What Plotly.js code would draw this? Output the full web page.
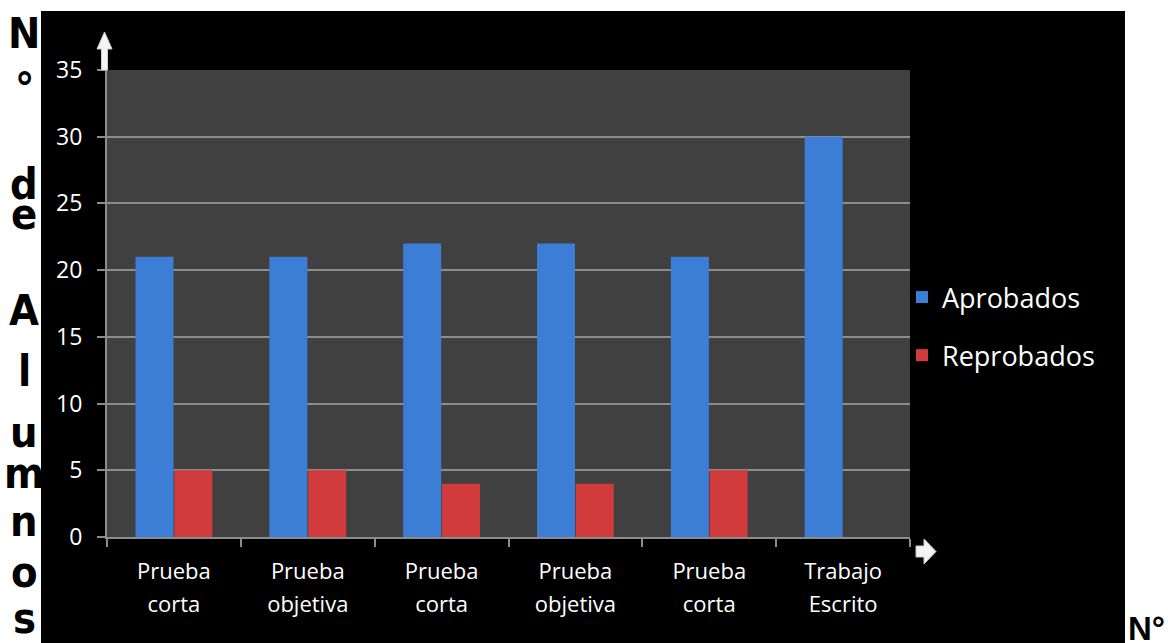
<!DOCTYPE html>
<html>
<head>
<meta charset="utf-8">
<script src="https://cdn.plot.ly/plotly-3.0.1.min.js"></script>
<style>
html,body{margin:0;padding:0;background:#ffffff;}
#chart{width:1168px;height:643px;}
</style>
</head>
<body>
<div id="chart"></div>
<script>
// ---- data ----
const categories = ["Prueba corta", "Prueba objetiva", "Prueba corta ", "Prueba objetiva ", "Prueba corta  ", "Trabajo Escrito"];
const tickLines = [["Prueba", "corta"], ["Prueba", "objetiva"], ["Prueba", "corta"], ["Prueba", "objetiva"], ["Prueba", "corta"], ["Trabajo", "Escrito"]];
const aprobados = [21, 21, 22, 22, 21, 30];
const reprobados = [5, 5, 4, 4, 5, 0];
const seriesNames = ["Aprobados", "Reprobados"];
const yTicks = [0, 5, 10, 15, 20, 25, 30, 35];
const yTitleLetters = ["N", "°", "d", "e", "A", "l", "u", "m", "n", "o", "s"];
const cornerText = "N°";

// ---- layout helpers (pixel -> paper) ----
const L = 107, R = 910, T = 70, B = 537;
const W = R - L, H = B - T;
const px = p => (p - L) / W;
const py = p => (B - p) / H;

const txtFont = "Open Sans, Noto Sans, sans-serif";
const tickText = tickLines.map(ls => ls.map(s => '<span style="font-size:22px">' + s + '</span>').join("<br>"));

const traces = [
  {type: "bar", name: seriesNames[0], x: categories, y: aprobados,
   marker: {color: "#3c7dd6", line: {width: 0}}, legendgroup: "a", hoverinfo: "y"},
  {type: "bar", name: seriesNames[1], x: categories, y: reprobados,
   marker: {color: "#d13b3b", line: {width: 0}}, legendgroup: "b", hoverinfo: "y"}
];

// vertical title letters (glyph centre y in px, and adjustment by glyph type)
const letterCentres = [33, 78, 184, 218, 310, 371, 436, 477, 525, 576, 622];
const annotations = yTitleLetters.map((ch, i) => {
  let adj = 0;
  if ("eumnos".includes(ch)) adj = -4;
  if (ch === "°") adj = 10;
  return {
    xref: "paper", yref: "paper", x: px(24), y: py(letterCentres[i] + adj),
    xanchor: "center", yanchor: "middle", showarrow: false,
    text: "<b>" + ch + "</b>",
    font: {family: "DejaVu Sans Condensed, DejaVu Sans, sans-serif", size: 43, color: "#000000"}
  };
});
annotations.push({
  xref: "paper", yref: "paper", x: px(1126), y: py(628),
  xanchor: "left", yanchor: "middle", showarrow: false,
  text: "<b>" + cornerText + "</b>",
  font: {family: "Liberation Sans, Arial, sans-serif", size: 33, color: "#000000"}
});

const white = "#ffffff";
const shapes = [
  {type: "rect", xref: "paper", yref: "paper", layer: "below", x0: px(0), x1: px(41), y0: py(643), y1: py(0), fillcolor: white, line: {width: 0}},
  {type: "rect", xref: "paper", yref: "paper", layer: "below", x0: px(0), x1: px(1168), y0: py(11), y1: py(0), fillcolor: white, line: {width: 0}},
  {type: "rect", xref: "paper", yref: "paper", layer: "below", x0: px(1125), x1: px(1168), y0: py(643), y1: py(0), fillcolor: white, line: {width: 0}},
  {type: "path", xref: "paper", yref: "paper", layer: "above",
   path: `M${px(101.5)},${py(70)} L${px(101.5)},${py(49)} L${px(97)},${py(49)} L${px(104.5)},${py(32)} L${px(112)},${py(49)} L${px(107.5)},${py(49)} L${px(107.5)},${py(70)} Z`,
   fillcolor: "#f4f4f4", line: {color: "#cccccc", width: 1}},
  {type: "path", xref: "paper", yref: "paper", layer: "above",
   path: `M${px(916)},${py(546)} L${px(924)},${py(546)} L${px(924)},${py(539)} L${px(936)},${py(551.5)} L${px(924)},${py(564)} L${px(924)},${py(557)} L${px(916)},${py(557)} Z`,
   fillcolor: "#f4f4f4", line: {color: "#cccccc", width: 1}}
];

const layout = {
  width: 1168, height: 643,
  margin: {l: L, r: 1168 - R, t: T, b: 643 - B, pad: 0},
  paper_bgcolor: "#000000",
  plot_bgcolor: "#404040",
  barmode: "group",
  bargap: 0.42,
  bargroupgap: 0.02,
  showlegend: true,
  legend: {
    x: px(902), y: py(273), xanchor: "left", yanchor: "top",
    font: {family: txtFont, size: 27, color: "#ffffff"},
    bgcolor: "rgba(0,0,0,0)", traceorder: "grouped", tracegroupgap: 20
  },
  xaxis: {
    type: "category",
    tickvals: categories, ticktext: tickText,
    showgrid: false, zeroline: false,
    showline: true, linecolor: "#8c8c8c", linewidth: 2,
    ticks: "outside", tickson: "boundaries", ticklen: 8, tickwidth: 2, tickcolor: "#8c8c8c",
    tickfont: {family: txtFont, size: 25, color: "#ffffff"},
    ticklabelstandoff: 10,
    automargin: false, fixedrange: true
  },
  yaxis: {
    range: [0, 35], tickvals: yTicks,
    showgrid: true, gridcolor: "#8c8c8c", gridwidth: 2,
    zeroline: false,
    showline: true, linecolor: "#8c8c8c", linewidth: 2,
    ticks: "outside", ticklen: 8, tickwidth: 2, tickcolor: "#8c8c8c",
    tickfont: {family: txtFont, size: 23, color: "#ffffff"},
    ticklabelstandoff: 10,
    automargin: false, fixedrange: true
  },
  annotations: annotations,
  shapes: shapes
};

Plotly.newPlot("chart", traces, layout, {displayModeBar: false, staticPlot: true});
</script>
</body>
</html>
